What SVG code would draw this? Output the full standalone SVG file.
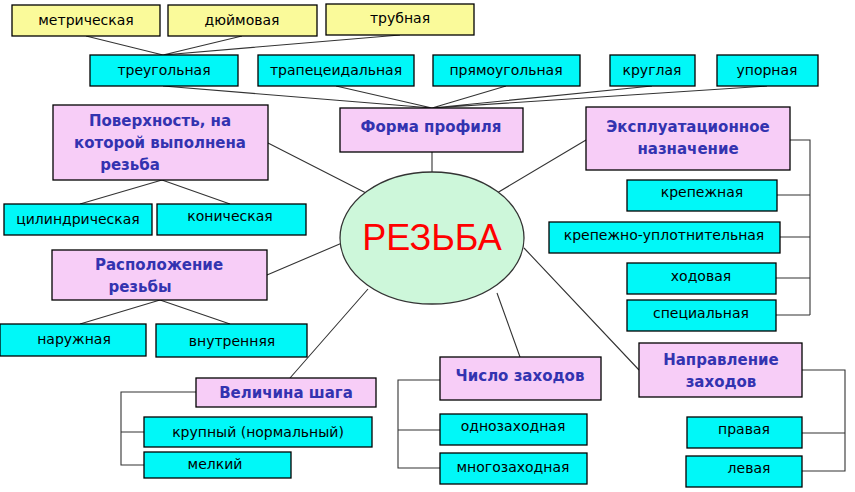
<svg xmlns="http://www.w3.org/2000/svg" width="855" height="492" viewBox="0 0 855 492">
<style>
.y{fill:#fafa9a;stroke:#000;stroke-width:1.3}
.c{fill:#00f8f8;stroke:#000;stroke-width:1.3}
.p{fill:#f7cdf7;stroke:#000;stroke-width:1.3}
.t{font-family:"DejaVu Sans",sans-serif;font-size:14px;fill:#000;text-anchor:middle}
.b{font-family:"DejaVu Sans",sans-serif;font-size:15px;font-weight:bold;fill:#3333b0;text-anchor:middle}
.l{stroke:#333;stroke-width:1.1;fill:none}
</style>
<rect width="855" height="492" fill="#fff"/>
<g id="connectors">
<path class="l" d="M86,36L163,55M242,36L163,55M400,35L163,55"/>
<path class="l" d="M163,86L432,108M336,86L432,108M506,86L432,108M652,86L432,108M767,86L432,108"/>
<path class="l" d="M432,152L432,172M268,143L366,193M162,180L80,204M162,180L230,204"/>
<path class="l" d="M586,140L497,193M790,140H810V315M777,195H810M780,237H810M776,278H810M776,315H810"/>
<path class="l" d="M267,275L342,243M160,300L80,324M160,300L230,324"/>
<path class="l" d="M290,378L368,289M196,392H121V465H144M121,432H144"/>
<path class="l" d="M520,357L497,293M440,380H398V468H440M398,430H440"/>
<path class="l" d="M639,370L524,248M802,370H845V471H802M802,433H845"/>
</g>
<g id="center"><ellipse cx="432" cy="238" rx="92" ry="66" fill="#cdf7da" stroke="#333" stroke-width="1.3"/>
<text x="432" y="250" font-family="Liberation Sans,sans-serif" font-size="36" fill="#f00" text-anchor="middle">РЕЗЬБА</text></g>
<g id="metr"><rect class="y" x="12" y="5" width="148" height="31"/><text class="t" x="86" y="25">метрическая</text></g>
<g id="dyum"><rect class="y" x="168" y="5" width="149" height="31"/><text class="t" x="242" y="25">дюймовая</text></g>
<g id="trub"><rect class="y" x="326" y="4" width="148" height="31"/><text class="t" x="400" y="23">трубная</text></g>
<g id="treug"><rect class="c" x="90" y="55" width="148" height="31"/><text class="t" x="164" y="75">треугольная</text></g>
<g id="trap"><rect class="c" x="258" y="55" width="156" height="31"/><text class="t" x="336" y="75">трапецеидальная</text></g>
<g id="pryam"><rect class="c" x="433" y="55" width="147" height="31"/><text class="t" x="506" y="75">прямоугольная</text></g>
<g id="krug"><rect class="c" x="610" y="55" width="85" height="31"/><text class="t" x="652" y="75">круглая</text></g>
<g id="upor"><rect class="c" x="717" y="55" width="101" height="31"/><text class="t" x="767" y="75">упорная</text></g>
<g id="forma"><rect class="p" x="340" y="108" width="183" height="44"/><text class="b" x="431" y="132">Форма профиля</text></g>
<g id="poverh"><rect class="p" x="53" y="105" width="215" height="75"/><text class="b" x="160" y="126">Поверхность, на</text><text class="b" x="160" y="148">которой выполнена</text><text class="b" x="130" y="170">резьба</text></g>
<g id="cil"><rect class="c" x="4" y="204" width="148" height="31"/><text class="t" x="78" y="224">цилиндрическая</text></g>
<g id="kon"><rect class="c" x="157" y="204" width="149" height="31"/><text class="t" x="230" y="221">коническая</text></g>
<g id="ekspl"><rect class="p" x="586" y="107" width="204" height="63"/><text class="b" x="688" y="132">Эксплуатационное</text><text class="b" x="688" y="154">назначение</text></g>
<g id="krep"><rect class="c" x="627" y="180" width="150" height="31"/><text class="t" x="702" y="197">крепежная</text></g>
<g id="krepupl"><rect class="c" x="549" y="222" width="231" height="31"/><text class="t" x="664" y="240" font-size="13">крепежно-уплотнительная</text></g>
<g id="hod"><rect class="c" x="627" y="263" width="149" height="31"/><text class="t" x="701" y="281">ходовая</text></g>
<g id="spec"><rect class="c" x="627" y="300" width="149" height="31"/><text class="t" x="701" y="318">специальная</text></g>
<g id="raspol"><rect class="p" x="52" y="250" width="215" height="50"/><text class="b" x="159" y="270">Расположение</text><text class="b" x="140" y="292">резьбы</text></g>
<g id="naruzh"><rect class="c" x="0" y="324" width="146" height="32"/><text class="t" x="74" y="344">наружная</text></g>
<g id="vnutr"><rect class="c" x="156" y="324" width="151" height="33"/><text class="t" x="232" y="346">внутренняя</text></g>
<g id="shag"><rect class="p" x="196" y="378" width="180" height="29"/><text class="b" x="286" y="398">Величина шага</text></g>
<g id="krupn"><rect class="c" x="144" y="417" width="228" height="30"/><text class="t" x="258" y="437">крупный (нормальный)</text></g>
<g id="melk"><rect class="c" x="144" y="452" width="147" height="26"/><text class="t" x="215" y="469">мелкий</text></g>
<g id="chislo"><rect class="p" x="440" y="357" width="161" height="43"/><text class="b" x="520" y="381">Число заходов</text></g>
<g id="odno"><rect class="c" x="440" y="414" width="147" height="31"/><text class="t" x="513" y="431">однозаходная</text></g>
<g id="mnogo"><rect class="c" x="440" y="453" width="147" height="31"/><text class="t" x="513" y="472">многозаходная</text></g>
<g id="napr"><rect class="p" x="639" y="343" width="163" height="54"/><text class="b" x="721" y="365">Направление</text><text class="b" x="721" y="387">заходов</text></g>
<g id="prav"><rect class="c" x="687" y="417" width="115" height="31"/><text class="t" x="744" y="434">правая</text></g>
<g id="lev"><rect class="c" x="686" y="456" width="116" height="31"/><text class="t" x="749" y="473">левая</text></g>
</svg>
